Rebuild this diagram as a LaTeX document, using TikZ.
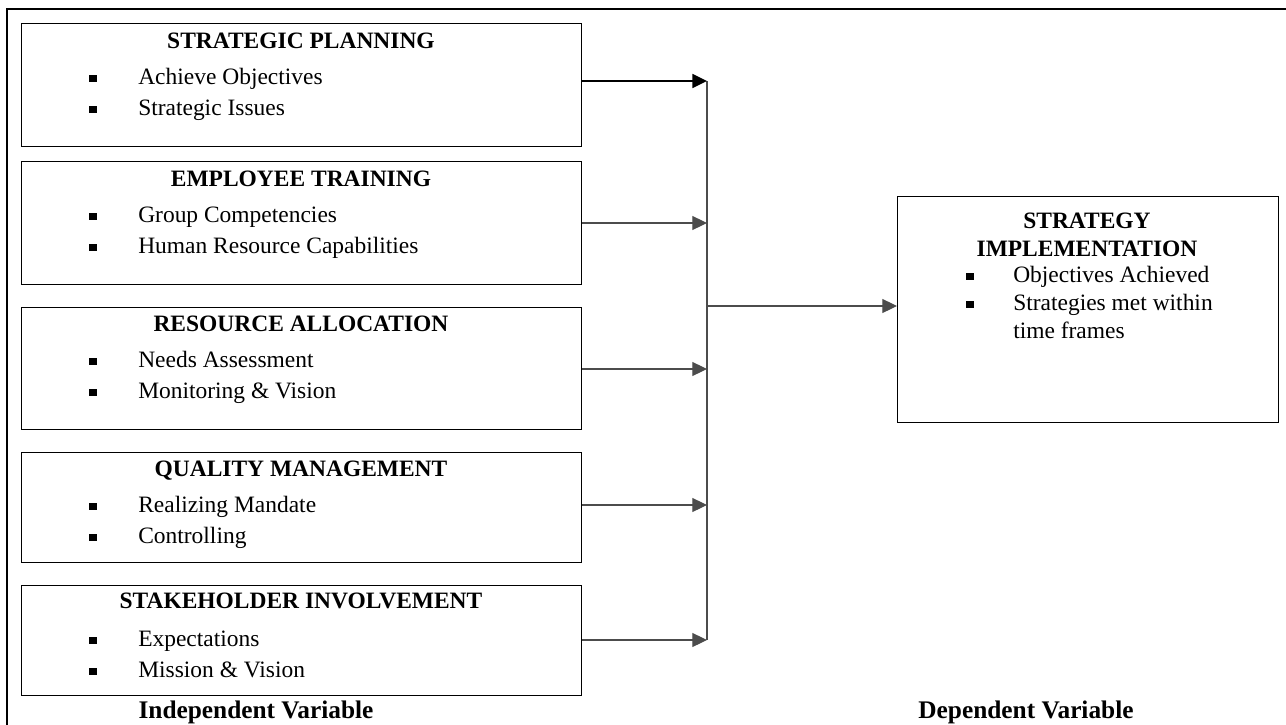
\documentclass[tikz,border=0pt]{standalone}
\usepackage{fontspec}
\setmainfont{Liberation Serif}
\usetikzlibrary{arrows.meta}
\begin{document}
\begin{tikzpicture}[x=0.75pt,y=-0.75pt,
  ivbox/.style={draw=black, line width=0.8pt, rectangle, anchor=north west, inner sep=0pt, minimum width=420pt},
  ttl/.style={font=\fontsize{17.6}{20}\selectfont\bfseries, anchor=base, inner sep=0pt},
  itm/.style={font=\fontsize{17.6}{20}\selectfont, anchor=base west, inner sep=0pt},
  bul/.style={fill=black, inner sep=0pt, minimum size=5.4pt, rectangle},
  lbl/.style={font=\fontsize{19}{22}\selectfont\bfseries, anchor=base, inner sep=0pt},
  arr/.style={draw=black!70, line width=0.8pt, -{Triangle[length=11pt,width=10.5pt]}},
  bus/.style={draw=black!70, line width=0.8pt}]
\useasboundingbox (0,0) rectangle (1286,725);
% outer frame (top and left edges visible)
\draw[line width=1.6pt] (7,725) -- (7,9) -- (1286,9);
% independent variable boxes
\node[ivbox, minimum height=92.25pt] (b1) at (21,23) {};
\node[ivbox, minimum height=92.25pt] (b2) at (21,161) {};
\node[ivbox, minimum height=91.5pt] (b3) at (21,307) {};
\node[ivbox, minimum height=82.5pt] (b4) at (21,452) {};
\node[ivbox, minimum height=82.5pt] (b5) at (21,585) {};
% dependent box
\node[draw=black, line width=0.8pt, rectangle, anchor=north west, inner sep=0pt, minimum width=285.75pt, minimum height=169.5pt] (rb) at (897,196) {};
% box 1
\node[ttl] (t1) at (301,48) {STRATEGIC PLANNING};
\node[bul] (p1a) at (93,78.5) {}; \node[itm] (i1a) at (138,84) {Achieve Objectives};
\node[bul] (p1b) at (93,109.5) {}; \node[itm] (i1b) at (138,115) {Strategic Issues};
% box 2
\node[ttl] (t2) at (301,186) {EMPLOYEE TRAINING};
\node[bul] (p2a) at (93,216.5) {}; \node[itm] (i2a) at (138,222) {Group Competencies};
\node[bul] (p2b) at (93,247.5) {}; \node[itm] (i2b) at (138,253) {Human Resource Capabilities};
% box 3
\node[ttl] (t3) at (301,331) {RESOURCE ALLOCATION};
\node[bul] (p3a) at (93,361.5) {}; \node[itm] (i3a) at (138,367) {Needs Assessment};
\node[bul] (p3b) at (93,392.5) {}; \node[itm] (i3b) at (138,398) {Monitoring \& Vision};
% box 4
\node[ttl] (t4) at (301,476) {QUALITY MANAGEMENT};
\node[bul] (p4a) at (93,506.5) {}; \node[itm] (i4a) at (138,512) {Realizing Mandate};
\node[bul] (p4b) at (93,537.5) {}; \node[itm] (i4b) at (138,543) {Controlling};
% box 5
\node[ttl] (t5) at (301,608) {STAKEHOLDER INVOLVEMENT};
\node[bul] (p5a) at (93,640.5) {}; \node[itm] (i5a) at (138,646) {Expectations};
\node[bul] (p5b) at (93,671.5) {}; \node[itm] (i5b) at (138,677) {Mission \& Vision};
% right box text
\node[ttl] (rt1) at (1087,228) {STRATEGY};
\node[ttl] (rt2) at (1087,256) {IMPLEMENTATION};
\node[bul] (rpa) at (970,276.5) {}; \node[itm] (ria) at (1013,282) {Objectives Achieved};
\node[bul] (rpb) at (970,304.5) {}; \node[itm] (rib) at (1013,310) {Strategies met within};
\node[itm] (ric) at (1013,338) {time frames};
% labels
\node[lbl] (iv) at (256,718) {Independent Variable};
\node[lbl] (dv) at (1026,718) {Dependent Variable};
% connectors
\coordinate (h1) at (707,81);
\coordinate (h2) at (707,223);
\coordinate (h3) at (707,369);
\coordinate (h4) at (707,505);
\coordinate (h5) at (707,640);
\coordinate (hm) at (707,306);
\draw[bus] (h1) -- (h5);
\draw[arr, draw=black, line width=1.3pt] (b1.east |- h1) -- (h1);
\draw[arr] (b2.east |- h2) -- (h2);
\draw[arr] (b3.east |- h3) -- (h3);
\draw[arr] (b4.east |- h4) -- (h4);
\draw[arr] (b5.east |- h5) -- (h5);
\draw[arr] (hm) -- (rb.west |- hm);
\end{tikzpicture}
\end{document}
